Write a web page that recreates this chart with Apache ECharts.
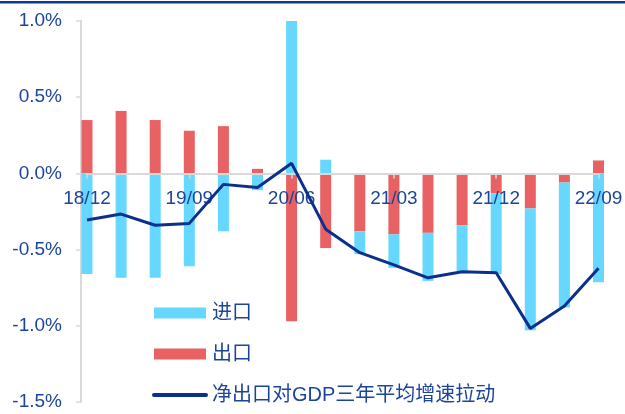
<!DOCTYPE html>
<html>
<head>
<meta charset="utf-8">
<style>
  html, body { margin: 0; padding: 0; background: #ffffff; }
  #chart { width: 625px; height: 414px; }
</style>
<script src="https://cdn.jsdelivr.net/npm/echarts@6/dist/echarts.min.js"></script>
</head>
<body>
<div id="chart"></div>
<script>
// Quarterly contributions to GDP growth (three-year average), in percentage points
const categories = ['18/12', '19/03', '19/06', '19/09', '19/12', '20/03', '20/06', '20/09',
                    '20/12', '21/03', '21/06', '21/09', '21/12', '22/03', '22/06', '22/09'];
const importVals = [-0.66, -0.685, -0.685, -0.61, -0.38, -0.11, 1.00, 0.09,
                    -0.15, -0.22, -0.315, -0.30, -0.53, -0.80, -0.82, -0.715];
const exportVals = [0.35, 0.41, 0.35, 0.28, 0.31, 0.03, -0.97, -0.49,
                    -0.38, -0.40, -0.39, -0.34, -0.13, -0.23, -0.06, 0.085];
const netVals = [-0.306, -0.267, -0.34, -0.328, -0.072, -0.092, 0.066, -0.366,
                 -0.52, -0.60, -0.685, -0.646, -0.652, -1.017, -0.87, -0.623];

const NAVY_TEXT = '#1B449B';
const NAVY_LINE = '#0B2F8C';
const CYAN = '#66D7FF';
const RED = '#E86163';
const GRAY = '#D9D9D9';
const FONT = "'Liberation Sans', Arial, 'Noto Sans CJK SC', sans-serif";

const W = 625, H = 414;
const GRID = { left: 87, right: 26.5, top: 21, bottom: 12 };
const Y_MIN = -1.5, Y_MAX = 1.0;
// lift the category axis from the plot bottom up to the 0% level
const plotH = H - GRID.top - GRID.bottom;
const zeroLift = plotH * (0 - Y_MIN) / (Y_MAX - Y_MIN);

const chart = echarts.init(document.getElementById('chart'), null, { renderer: 'canvas' });

chart.setOption({
  animation: false,
  backgroundColor: '#ffffff',
  textStyle: { fontFamily: FONT },
  grid: Object.assign({ containLabel: false, outerBoundsMode: 'none' }, GRID),
  graphic: [{
    type: 'rect',
    shape: { x: 0, y: 1, width: W, height: 2.5 },
    style: { fill: '#0B3A8F' },
    silent: true
  }],
  legend: {
    orient: 'vertical',
    left: 152,
    top: 303,
    padding: 0,
    itemWidth: 52,
    itemHeight: 11,
    itemGap: 21,
    textStyle: { color: NAVY_TEXT, fontSize: 20, fontFamily: FONT, lineHeight: 20, padding: [0, 0, 0, 1] },
    data: [
      { name: '进口', icon: 'rect' },
      { name: '出口', icon: 'rect' },
      {
        name: '净出口对GDP三年平均增速拉动',
        itemStyle: { opacity: 0, color: 'rgba(0,0,0,0)', borderWidth: 0 },
        lineStyle: { width: 4, cap: 'round', color: NAVY_LINE }
      }
    ]
  },
  xAxis: {
    type: 'category',
    data: categories,
    boundaryGap: false,
    position: 'bottom',
    offset: -zeroLift,
    z: 5,
    splitLine: { show: false },
    axisLine: { show: true, onZero: false, lineStyle: { color: GRAY, width: 2 } },
    axisTick: { show: true, interval: 2, length: 5, lineStyle: { color: GRAY, width: 1.5 } },
    axisLabel: {
      show: true,
      interval: 2,
      margin: 16,
      color: NAVY_TEXT,
      fontSize: 19,
      fontFamily: FONT
    }
  },
  yAxis: {
    type: 'value',
    min: Y_MIN,
    max: Y_MAX,
    interval: 0.5,
    offset: 6,
    splitLine: { show: false },
    axisLine: { show: true, lineStyle: { color: GRAY, width: 2 } },
    axisTick: { show: true, length: 5, lineStyle: { color: GRAY, width: 1.5 } },
    axisLabel: {
      margin: 19,
      color: NAVY_TEXT,
      fontSize: 19,
      fontFamily: FONT,
      formatter: v => v.toFixed(1) + '%'
    }
  },
  series: [
    {
      name: '出口',
      type: 'bar',
      stack: 'trade',
      barWidth: 11,
      itemStyle: { color: RED },
      data: exportVals
    },
    {
      name: '进口',
      type: 'bar',
      stack: 'trade',
      barWidth: 11,
      itemStyle: { color: CYAN },
      data: importVals
    },
    {
      name: '净出口对GDP三年平均增速拉动',
      type: 'line',
      z: 10,
      symbol: 'none',
      lineStyle: { color: NAVY_LINE, width: 3 },
      itemStyle: { color: NAVY_LINE },
      data: netVals
    }
  ]
});
</script>
</body>
</html>
